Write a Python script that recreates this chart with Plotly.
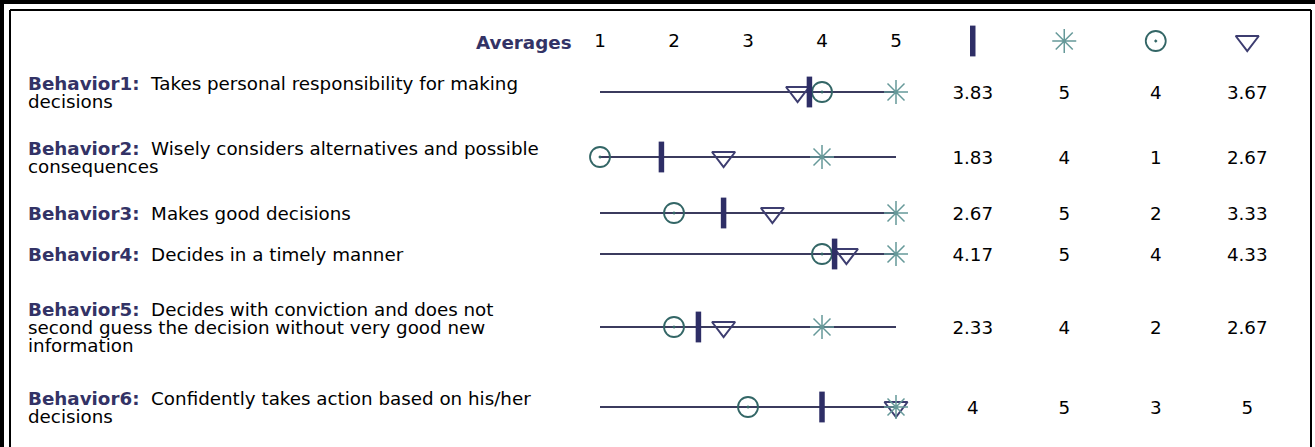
import plotly.graph_objects as go

W, H = 1315, 447

# ---------------- data ----------------
behaviors = ["Behavior1", "Behavior2", "Behavior3", "Behavior4", "Behavior5", "Behavior6"]
descriptions = [
    "Takes personal responsibility for making\ndecisions",
    "Wisely considers alternatives and possible\nconsequences",
    "Makes good decisions",
    "Decides in a timely manner",
    "Decides with conviction and does not\nsecond guess the decision without very good new\ninformation",
    "Confidently takes action based on his/her\ndecisions",
]
mean_vals = [3.83, 1.83, 2.67, 4.17, 2.33, 4]
max_vals = [5, 4, 5, 5, 4, 5]
min_vals = [4, 1, 2, 4, 2, 3]
self_vals = [3.67, 2.67, 3.33, 4.33, 2.67, 5]
scale_ticks = [1, 2, 3, 4, 5]
columns = ["mean", "max", "min", "self"]
header_label = "Averages"

# ---------------- layout helpers (pixel rows) ----------------
row_y = [92, 157, 213, 254, 327, 407]
header_y = 41
line_gap = 18

FONT = "DejaVu Sans, Liberation Sans, Arial, sans-serif"
NAVY = "#333366"
BAR = "#2e2e66"
LINE = "#3b3b5e"
STAR = "#669999"
CIRC = "#336666"
TRI = "#3d3d70"
FS = 18.3

sym = {
    "mean": dict(symbol="line-ns", size=22, color=BAR, line=dict(color=BAR, width=5.5)),
    "max": dict(symbol="asterisk-open", size=20, color=STAR, line=dict(color=STAR, width=1.5)),
    "min": dict(symbol="circle-open-dot", size=20, color=CIRC, line=dict(color=CIRC, width=1.8)),
    "self": dict(symbol="triangle-down-open", size=20, color=TRI, line=dict(color=TRI, width=2)),
}
col_vals = {"mean": mean_vals, "max": max_vals, "min": min_vals, "self": self_vals}

fig = go.Figure()

# range lines
lx, ly = [], []
for ry in row_y:
    lx += [scale_ticks[0], scale_ticks[-1], None]
    ly += [ry, ry, None]
fig.add_trace(go.Scatter(x=lx, y=ly, mode="lines", line=dict(color=LINE, width=2),
                         hoverinfo="skip", showlegend=False, cliponaxis=False))

for key in ["min", "self", "mean", "max"]:
    fig.add_trace(go.Scatter(x=col_vals[key], y=row_y, mode="markers", marker=sym[key],
                             showlegend=False, cliponaxis=False, name=key))

# header scale numbers (x2)
fig.add_trace(go.Scatter(x=scale_ticks, y=[header_y + 1] * len(scale_ticks), xaxis="x2", yaxis="y",
                         mode="text", text=[str(t) for t in scale_ticks],
                         textfont=dict(family=FONT, size=FS, color="black"),
                         showlegend=False, cliponaxis=False, hoverinfo="skip"))

# header icons + value columns (x3)
for key in columns:
    fig.add_trace(go.Scatter(x=[key], y=[header_y], xaxis="x3", yaxis="y", mode="markers",
                             marker=sym[key], showlegend=False, cliponaxis=False, hoverinfo="skip"))
    fig.add_trace(go.Scatter(x=[key] * len(row_y), y=[r + 2 for r in row_y], xaxis="x3", yaxis="y",
                             mode="text", text=["{:g}".format(v) for v in col_vals[key]],
                             textfont=dict(family=FONT, size=FS, color="black"),
                             showlegend=False, cliponaxis=False, hoverinfo="skip"))

annotations = []
annotations.append(dict(x=574 / W, y=header_y + 1, xref="paper", yref="y", xanchor="right", yanchor="middle",
                        text="<b>" + header_label + "</b>", showarrow=False,
                        font=dict(family=FONT, size=FS, color=NAVY)))

for i, (b, d) in enumerate(zip(behaviors, descriptions)):
    lines = d.split("\n")
    n = len(lines)
    y0 = row_y[i] - (n - 1) * line_gap / 2
    for j, ln in enumerate(lines):
        if j == 0:
            txt = "<b><span style='color:%s'>%s:</span></b>\u00a0\u00a0%s" % (NAVY, b, ln)
        else:
            txt = ln
        annotations.append(dict(x=28 / W, y=y0 + j * line_gap, xref="paper", yref="y",
                                xanchor="left", yanchor="middle", text=txt, showarrow=False,
                                font=dict(family=FONT, size=FS, color="black"), xshift=-2))


def px(v):
    return v / W


def py(v):
    return 1 - v / H


shapes = [
    dict(type="line", xref="paper", yref="paper", x0=0, x1=1, y0=py(2), y1=py(2), line=dict(color="black", width=4)),
    dict(type="line", xref="paper", yref="paper", x0=px(2), x1=px(2), y0=0, y1=1, line=dict(color="black", width=4)),
    dict(type="line", xref="paper", yref="paper", x0=px(10), x1=px(1311), y0=py(10), y1=py(10), line=dict(color="black", width=2)),
    dict(type="line", xref="paper", yref="paper", x0=px(10), x1=px(10), y0=-0.01, y1=py(10), line=dict(color="black", width=2)),
    dict(type="line", xref="paper", yref="paper", x0=px(1311), x1=px(1311), y0=-0.01, y1=py(10), line=dict(color="black", width=2)),
]

hidden = dict(visible=False, showgrid=False, zeroline=False, fixedrange=True)
fig.update_layout(
    width=W, height=H, margin=dict(l=0, r=0, t=0, b=0),
    paper_bgcolor="white", plot_bgcolor="white",
    xaxis=dict(domain=[px(600), px(896)], range=[1, 5], **hidden),
    xaxis2=dict(domain=[px(601), px(887)], range=[1, 5], overlaying="x", anchor="y", **hidden),
    xaxis3=dict(domain=[px(927), px(1293)], type="category", categoryorder="array", categoryarray=columns,
                range=[-0.5, 3.5], anchor="y", **hidden),
    yaxis=dict(domain=[0, 1], range=[H, 0], **hidden),
    annotations=annotations, shapes=shapes, showlegend=False,
)

fig.write_html("out.html")
